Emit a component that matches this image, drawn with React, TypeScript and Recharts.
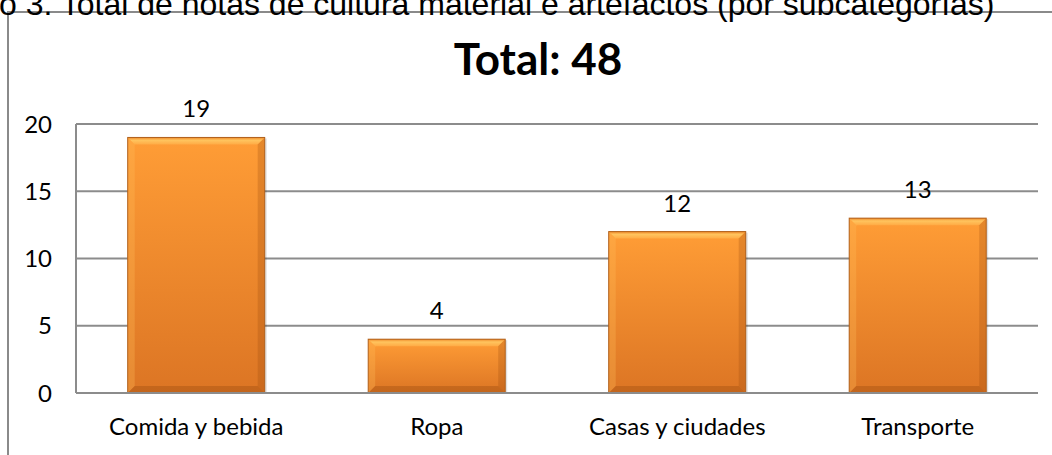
import { BarChart, Bar, XAxis, YAxis, CartesianGrid, LabelList } from "recharts";

const categories = ["Comida y bebida", "Ropa", "Casas y ciudades", "Transporte"];
const notas = [19, 4, 12, 13];
const yTicks = [0, 5, 10, 15, 20];
const totalLabel = "Total: 48";
const captionText = "o 3. Total de notas de cultura material e artefactos (por subcategorías)";

const data = categories.map((name, i) => ({ name, notas: notas[i] }));

const font = "Lato, 'Open Sans', sans-serif";

function BevelBar(props: any) {
  const { x, y, width, height } = props;
  if (!height || height <= 0) return null;
  const b = Math.min(7, height / 3);
  return (
    <g>
      <rect x={x + 2} y={y + 1} width={width} height={height} fill="rgba(0,0,0,0.12)" />
      <rect x={x} y={y} width={width} height={height} fill="url(#barGrad)" />
      {/* top bevel */}
      <polygon
        points={`${x},${y} ${x + width},${y} ${x + width - b},${y + b} ${x + b},${y + b}`}
        fill="url(#topBevel)"
      />
      {/* left bevel */}
      <polygon
        points={`${x},${y} ${x + b},${y + b} ${x + b},${y + height - b} ${x},${y + height}`}
        fill="rgba(255,190,90,0.3)"
      />
      {/* right bevel */}
      <polygon
        points={`${x + width},${y} ${x + width},${y + height} ${x + width - b},${y + height - b} ${x + width - b},${y + b}`}
        fill="rgba(150,70,10,0.25)"
      />
      {/* bottom bevel */}
      <polygon
        points={`${x},${y + height} ${x + b},${y + height - b} ${x + width - b},${y + height - b} ${x + width},${y + height}`}
        fill="rgba(140,65,10,0.3)"
      />
      <rect x={x} y={y} width={width} height={height} fill="none" stroke="#b0601c" strokeWidth={1} />
    </g>
  );
}

export default function App() {
  return (
    <div style={{ position: "absolute", left: 0, top: 0, width: 1052, height: 455, overflow: "hidden", background: "#fff" }}>
      <div
        style={{
          position: "absolute",
          left: 7,
          top: 11,
          width: 1060,
          height: 460,
          borderLeft: "2px solid #8a8a8a",
          borderTop: "2px solid #8a8a8a",
        }}
      />
      <div
        style={{
          position: "absolute",
          left: -1,
          top: -12,
          fontFamily: "'Liberation Sans', Arial, sans-serif",
          fontSize: 32,
          lineHeight: "32px",
          whiteSpace: "nowrap",
          color: "#000",
        }}
      >
        {captionText}
      </div>
      <div
        style={{
          position: "absolute",
          left: 0,
          width: 1076,
          top: 32,
          textAlign: "center",
          fontFamily: font,
          fontWeight: 700,
          fontSize: 44,
          lineHeight: "53px",
          color: "#000",
        }}
      >
        {totalLabel}
      </div>
      <div style={{ position: "absolute", left: 0, top: 0 }}>
        <BarChart
          width={1052}
          height={455}
          data={data}
          margin={{ top: 124, right: 14, bottom: 0, left: 0 }}
          barCategoryGap="21.5%"
        >
          <defs>
            <linearGradient id="barGrad" x1="0" y1="0" x2="0" y2="1">
              <stop offset="0%" stopColor="#ff9d36" />
              <stop offset="100%" stopColor="#dc7524" />
            </linearGradient>
            <linearGradient id="topBevel" x1="0" y1="0" x2="0" y2="1">
              <stop offset="0%" stopColor="#f08a2a" />
              <stop offset="40%" stopColor="#ffc45e" />
              <stop offset="100%" stopColor="#ffab45" />
            </linearGradient>
          </defs>
          <CartesianGrid vertical={false} stroke="#8c8c8c" strokeWidth={2} />
          <XAxis
            dataKey="name"
            height={62}
            axisLine={{ stroke: "#8c8c8c", strokeWidth: 2 }}
            tickLine={false}
            tick={{ fill: "#000", fontSize: 24, fontFamily: font }}
            tickMargin={19}
          />
          <YAxis
            domain={[0, 20]}
            ticks={yTicks}
            width={76}
            axisLine={{ stroke: "#8c8c8c", strokeWidth: 2 }}
            tickLine={false}
            tick={{ fill: "#000", fontSize: 24, fontFamily: font }}
            tickMargin={18}
          />
          <Bar dataKey="notas" shape={BevelBar} isAnimationActive={false}>
            <LabelList dataKey="notas" position="top" offset={20} fill="#000" fontSize={24} fontFamily={font} />
          </Bar>
        </BarChart>
      </div>
    </div>
  );
}
